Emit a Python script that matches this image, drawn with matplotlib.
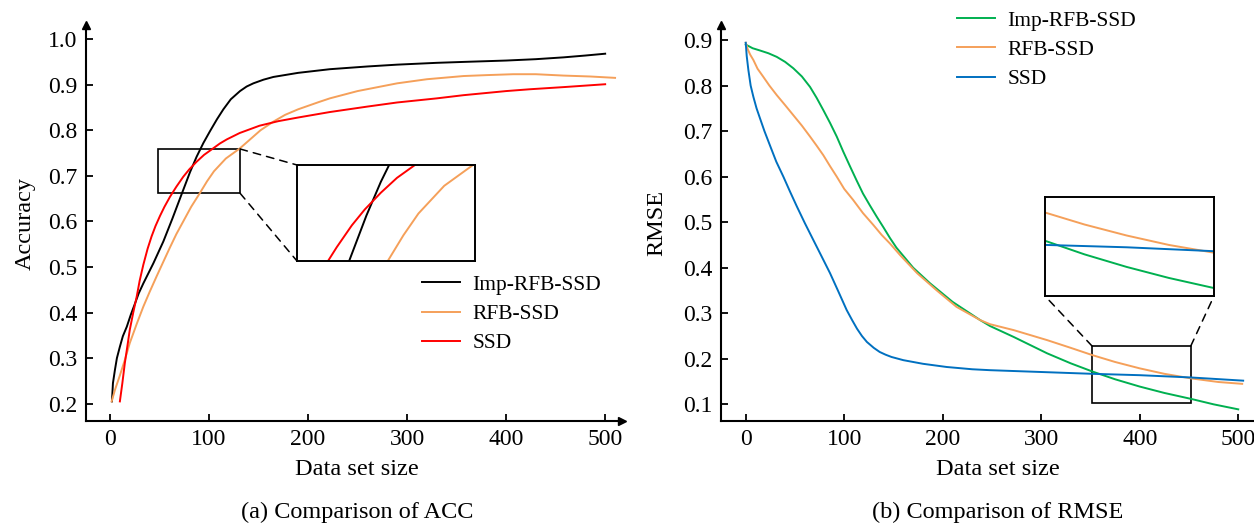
import numpy as np
import matplotlib
matplotlib.use("Agg")
import matplotlib.pyplot as plt
from matplotlib.patches import Rectangle, ConnectionPatch

plt.rcParams['font.family'] = ['Liberation Serif', 'DejaVu Serif']

# ---- (a) accuracy, values ----
acc_imp_x = [2, 3, 5, 7, 10, 13, 17, 21, 25.3, 29, 33.7, 43.8, 53.9, 63, 72.4, 80.8, 87.5, 94.3,
             101, 108, 114.5, 122, 131.3, 138, 144.8, 155, 165, 190, 222, 260, 290, 330, 357,
             400, 430, 458, 480, 500]
acc_imp_y = [0.205, 0.245, 0.274, 0.30, 0.325, 0.348, 0.369, 0.395, 0.42, 0.442, 0.464, 0.508,
             0.556, 0.606, 0.660, 0.708, 0.742, 0.772, 0.798, 0.824, 0.846, 0.868, 0.886, 0.896,
             0.903, 0.911, 0.917, 0.926, 0.934, 0.940, 0.944, 0.948, 0.950, 0.953, 0.956, 0.960,
             0.964, 0.968]

acc_rfb_x = [1.7, 5, 10, 15, 20, 27, 33.7, 40, 47, 54, 60.6, 67, 74, 82, 91, 98, 105, 117, 131,
             141, 152, 165, 177, 190, 211, 222, 250, 290, 320, 357, 380, 407, 430, 458, 485, 510]
acc_rfb_y = [0.205, 0.23, 0.262, 0.296, 0.333, 0.375, 0.413, 0.445, 0.479, 0.512, 0.543, 0.572,
             0.600, 0.632, 0.663, 0.688, 0.71, 0.738, 0.76, 0.779, 0.80, 0.819, 0.834, 0.846,
             0.862, 0.870, 0.886, 0.903, 0.912, 0.919, 0.921, 0.923, 0.923, 0.920, 0.918, 0.915]

acc_ssd_x = [10, 12.5, 15, 17.5, 20, 23.5, 27, 30, 33.7, 38, 42, 46, 50.5, 55, 60.6, 67, 74, 80,
             87.5, 95, 104, 111, 118, 131, 151, 170, 190, 222, 260, 290, 330, 357, 400, 424,
             460, 500]
acc_ssd_y = [0.205, 0.245, 0.289, 0.325, 0.362, 0.40, 0.435, 0.47, 0.505, 0.54, 0.567, 0.59,
             0.612, 0.632, 0.654, 0.676, 0.698, 0.714, 0.731, 0.746, 0.760, 0.771, 0.780, 0.794,
             0.810, 0.820, 0.828, 0.840, 0.852, 0.861, 0.870, 0.877, 0.886, 0.890, 0.895, 0.901]

# ---- (b) RMSE ----
rmse_imp_x = [0, 7, 14.5, 23, 31.5, 40, 48.3, 57, 65.3, 72, 78.8, 85.6, 92.4, 99, 106, 112.5,
              119, 126, 133, 140, 146.5, 153, 170, 187, 210, 238, 248, 272, 306, 330, 352, 375,
              400, 425, 452, 475, 500]
rmse_imp_y = [0.89, 0.882, 0.877, 0.871, 0.863, 0.852, 0.838, 0.82, 0.797, 0.773, 0.746, 0.718,
              0.688, 0.655, 0.622, 0.592, 0.563, 0.537, 0.512, 0.488, 0.465, 0.444, 0.40, 0.366,
              0.325, 0.285, 0.272, 0.248, 0.212, 0.19, 0.172, 0.155, 0.139, 0.125, 0.112, 0.10,
              0.089]

rmse_rfb_x = [0, 2, 4.5, 7.8, 12, 17.9, 24, 31.5, 40, 48.3, 57, 65.3, 72, 78.8, 85.6, 92.4, 100,
              109, 119, 129.5, 138, 146.5, 157, 174, 194, 214, 238, 248, 272, 306, 330, 352, 375,
              400, 425, 452, 480, 504]
rmse_rfb_y = [0.894, 0.88, 0.868, 0.856, 0.837, 0.819, 0.80, 0.779, 0.757, 0.735, 0.712, 0.688,
              0.668, 0.647, 0.623, 0.60, 0.573, 0.549, 0.52, 0.494, 0.472, 0.453, 0.427, 0.388,
              0.35, 0.314, 0.285, 0.276, 0.263, 0.241, 0.224, 0.208, 0.193, 0.179, 0.167, 0.157,
              0.149, 0.145]

rmse_ssd_x = [0, 1, 2.7, 5, 7.8, 11, 14.5, 19, 24.7, 31, 38.2, 45, 51.8, 60, 68.6, 77, 85.6, 94,
              102.5, 108, 113, 118, 123, 130, 136, 142, 148, 160, 180, 204, 230, 248, 300, 352,
              400, 452, 505]
rmse_ssd_y = [0.894, 0.865, 0.834, 0.80, 0.775, 0.75, 0.728, 0.70, 0.668, 0.633, 0.60, 0.567,
              0.535, 0.498, 0.461, 0.425, 0.388, 0.348, 0.307, 0.285, 0.266, 0.25, 0.237, 0.224,
              0.215, 0.209, 0.204, 0.197, 0.189, 0.182, 0.177, 0.175, 0.171, 0.167, 0.164, 0.159,
              0.152]

labels = ['Imp-RFB-SSD', 'RFB-SSD', 'SSD']
acc_colors = ['black', '#F5A05A', '#FF0000']
rmse_colors = ['#00B050', '#F5A05A', '#0070C0']

acc_series = [(acc_imp_x, acc_imp_y), (acc_rfb_x, acc_rfb_y), (acc_ssd_x, acc_ssd_y)]
rmse_series = [(rmse_imp_x, rmse_imp_y), (rmse_rfb_x, rmse_rfb_y), (rmse_ssd_x, rmse_ssd_y)]

W, H = 1254, 523
FS = 17      # tick labels
LFS = 17.5   # axis labels, captions
LW = 1.4


def px_axes(fig, x0, y_top, x1, y_bot):
    return fig.add_axes([x0 / W, 1 - y_bot / H, (x1 - x0) / W, (y_bot - y_top) / H])


def style_axes(ax, arrow_x=True):
    for s in ['top', 'right']:
        ax.spines[s].set_visible(False)
    for s in ['left', 'bottom']:
        ax.spines[s].set_linewidth(1.5)
    ax.tick_params(direction='in', length=5, width=1.3, labelsize=FS, pad=6)
    ax.plot(0, 1, '^k', transform=ax.transAxes, clip_on=False, markersize=6)
    if arrow_x:
        ax.plot(1, 0, '>k', transform=ax.transAxes, clip_on=False, markersize=6)


def add_legend(ax, fig, x_px, y_px):
    ax.legend(loc='center left', bbox_to_anchor=(x_px / W, 1 - y_px / H),
              bbox_transform=fig.transFigure, frameon=False, fontsize=15.5,
              handlelength=1.75, handletextpad=0.6, labelspacing=0.42, borderpad=0,
              borderaxespad=0)


fig = plt.figure(figsize=(W / 100, H / 100), dpi=100)

# ---------- (a) ----------
ax1 = px_axes(fig, 86, 25, 622, 421)
for (x, y), c, l in zip(acc_series, acc_colors, labels):
    ax1.plot(x, y, color=c, lw=LW, label=l)
ax1.set_xlim(-24.2, 517)
ax1.set_ylim(0.162, 1.031)
ax1.set_xticks([0, 100, 200, 300, 400, 500])
ax1.set_yticks([0.2, 0.3, 0.4, 0.5, 0.6, 0.7, 0.8, 0.9, 1.0])
ax1.set_yticklabels(['0.2', '0.3', '0.4', '0.5', '0.6', '0.7', '0.8', '0.9', '1.0'])
style_axes(ax1)
ax1.set_xlabel('Data set size', fontsize=LFS)
ax1.xaxis.set_label_coords(0.506, -0.095)
ax1.set_ylabel('Accuracy', fontsize=LFS)
ax1.yaxis.set_label_coords(-0.093, 0.5)
add_legend(ax1, fig, 422, 314)

r1 = (48.5, 131.3, 0.662, 0.759)
ax1.add_patch(Rectangle((r1[0], r1[2]), r1[1] - r1[0], r1[3] - r1[2],
                        fill=False, ec='black', lw=1.2))
ins1 = px_axes(fig, 297, 165, 475, 261)
for (x, y), c in zip(acc_series, acc_colors):
    ins1.plot(x, y, color=c, lw=LW)
ins1.set_xlim(r1[0], r1[1])
ins1.set_ylim(r1[2], r1[3])
ins1.set_xticks([])
ins1.set_yticks([])
for s in ins1.spines.values():
    s.set_linewidth(1.4)
for (xa, ya), (xb, yb) in [((r1[1], r1[3]), (0, 1)), ((r1[1], r1[2]), (0, 0))]:
    fig.add_artist(ConnectionPatch((xa, ya), (xb, yb), coordsA=ax1.transData,
                                   coordsB=ins1.transAxes, ls=(0, (5, 4)), lw=1.1, color='black'))

# ---------- (b) ----------
ax2 = px_axes(fig, 721, 25, 1254, 421)
for (x, y), c, l in zip(rmse_series, rmse_colors, labels):
    ax2.plot(x, y, color=c, lw=LW, label=l)
ax2.set_xlim(-25.1, 516)
ax2.set_ylim(0.0634, 0.933)
ax2.set_xticks([0, 100, 200, 300, 400, 500])
ax2.set_yticks([0.1, 0.2, 0.3, 0.4, 0.5, 0.6, 0.7, 0.8, 0.9])
style_axes(ax2, arrow_x=False)
ax2.set_xlabel('Data set size', fontsize=LFS)
ax2.xaxis.set_label_coords(0.52, -0.095)
ax2.set_ylabel('RMSE', fontsize=LFS)
ax2.yaxis.set_label_coords(-0.101, 0.5)
add_legend(ax2, fig, 957, 50)

r2 = (351.6, 451.8, 0.102, 0.228)
ax2.add_patch(Rectangle((r2[0], r2[2]), r2[1] - r2[0], r2[3] - r2[2],
                        fill=False, ec='black', lw=1.2))
ins2 = px_axes(fig, 1045, 197, 1214, 296)
for (x, y), c in zip(rmse_series, rmse_colors):
    ins2.plot(x, y, color=c, lw=LW)
ins2.set_xlim(r2[0], r2[1])
ins2.set_ylim(r2[2], r2[3])
ins2.set_xticks([])
ins2.set_yticks([])
for s in ins2.spines.values():
    s.set_linewidth(1.4)
for (xa, ya), (xb, yb) in [((r2[0], r2[3]), (0, 0)), ((r2[1], r2[3]), (1, 0))]:
    fig.add_artist(ConnectionPatch((xa, ya), (xb, yb), coordsA=ax2.transData,
                                   coordsB=ins2.transAxes, ls=(0, (5, 4)), lw=1.1, color='black'))

fig.text(357 / W, 1 - 512 / H, '(a) Comparison of ACC', ha='center', va='center', fontsize=LFS)
fig.text(998 / W, 1 - 512 / H, '(b) Comparison of RMSE', ha='center', va='center', fontsize=LFS)

fig.savefig('out.png', dpi=100)
